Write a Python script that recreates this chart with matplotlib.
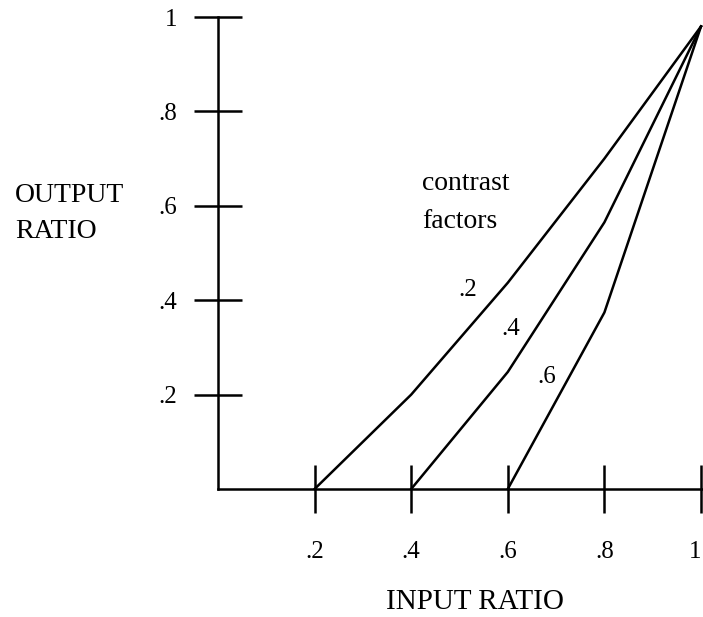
import matplotlib
matplotlib.use("Agg")
import matplotlib.pyplot as plt

# data
factor_labels = [".2", ".4", ".6"]
curve_x = [
    [0.2, 0.4, 0.6, 0.8, 1.0],
    [0.4, 0.6, 0.8, 1.0],
    [0.6, 0.8, 1.0],
]
curve_y = [
    [0.0, 0.20, 0.437, 0.70, 0.98],
    [0.0, 0.248, 0.565, 0.98],
    [0.0, 0.374, 0.98],
]
tick_vals = [0.2, 0.4, 0.6, 0.8, 1.0]
tick_labels = [".2", ".4", ".6", ".8", "1"]

plt.rcParams['font.family'] = ['Liberation Serif', 'DejaVu Serif']

W, H = 703, 617
fig = plt.figure(figsize=(W / 100, H / 100), dpi=100)
ax = fig.add_axes([0, 0, 1, 1])

x0px, xs = 218, 483
y0px, ys = 489, 472
ax.set_xlim((0 - x0px) / xs, (W - x0px) / xs)
ax.set_ylim((y0px - H) / ys, y0px / ys)

for s in ['top', 'right']:
    ax.spines[s].set_visible(False)
for s in ['left', 'bottom']:
    ax.spines[s].set_position(('data', 0))
    ax.spines[s].set_linewidth(1.8)
ax.spines['left'].set_bounds(0, 1)
ax.spines['bottom'].set_bounds(0, (W - x0px) / xs)

ax.set_xticks(tick_vals)
ax.set_xticklabels(tick_labels)
ax.set_yticks(tick_vals)
ax.set_yticklabels(tick_labels)
ax.tick_params(axis='both', direction='inout', length=35, width=1.8,
               labelsize=18)
ax.tick_params(axis='x', pad=20)
ax.tick_params(axis='y', pad=12)
ax.get_xticklabels()[-1].set_horizontalalignment('right')

for xs_, ys_ in zip(curve_x, curve_y):
    ax.plot(xs_, ys_, color='black', lw=1.8, solid_joinstyle='miter')

# labels
def px(x, y):
    return ((x - x0px) / xs, (y0px - y) / ys)

ax.text(*px(15, 195), "OUTPUT", fontsize=20, ha='left', va='center')
ax.text(*px(15, 231), "RATIO", fontsize=20, ha='left', va='center')
ax.text(*px(475, 602), "INPUT RATIO", fontsize=21, ha='center', va='center')
ax.text(*px(422, 184), "contrast", fontsize=20, ha='left', va='center')
ax.text(*px(422, 222), "factors", fontsize=20, ha='left', va='center')

label_pos = [(468, 290), (511, 329), (547, 377)]
for lab, (lx, ly) in zip(factor_labels, label_pos):
    ax.text(*px(lx, ly), lab, fontsize=18, ha='center', va='center')

fig.savefig("out.png", dpi=100)
